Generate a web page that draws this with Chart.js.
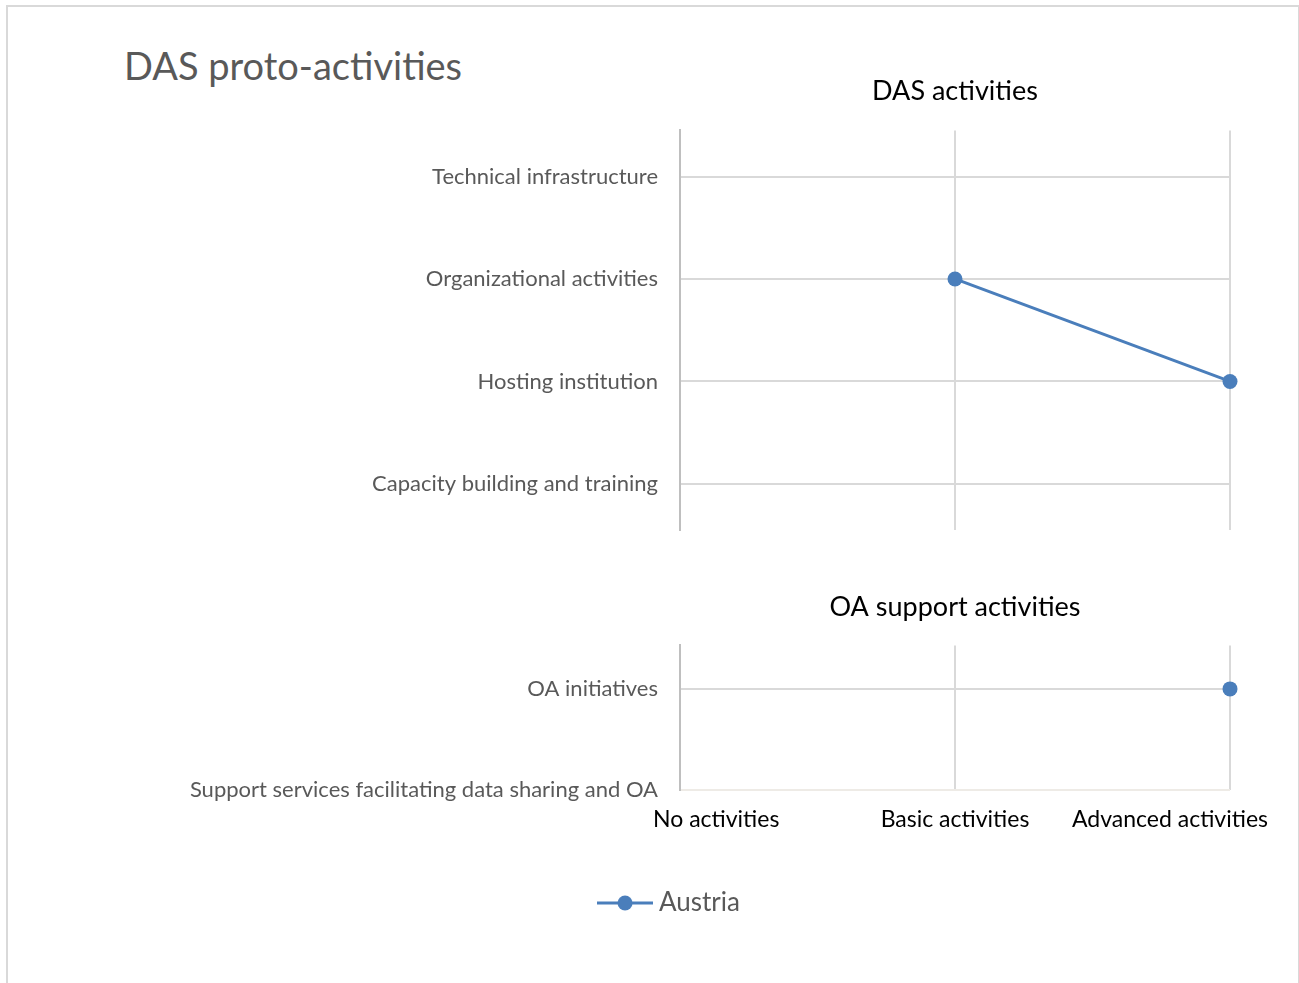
<!DOCTYPE html>
<html>
<head>
<meta charset="utf-8">
<title>DAS proto-activities</title>
<script src="https://cdn.jsdelivr.net/npm/chart.js@4.4.1/dist/chart.umd.min.js"></script>
<style>
  html, body { margin: 0; padding: 0; background: #fff; }
  body { width: 1299px; height: 983px; position: relative; overflow: hidden; font-family: Lato, sans-serif; }
  .frame { position: absolute; left: 6px; top: 5px; width: 1290px; height: 1000px; border: 2px solid #d9d9d9; }
  .main-title { position: absolute; left: 124px; top: 46px; font-size: 38px; line-height: 1; color: #595959; }
  .chart-box { position: absolute; left: 0; width: 1299px; }
  #dasBox { top: 60px; height: 490px; }
  #oaBox { top: 580px; height: 403px; }
</style>
</head>
<body>
<div class="frame"></div>
<div class="main-title">DAS proto-activities</div>
<div class="chart-box" id="dasBox"><canvas id="dasChart"></canvas></div>
<div class="chart-box" id="oaBox"><canvas id="oaChart"></canvas></div>

<script>
// Dados
const activityLevels = ['No activities', 'Basic activities', 'Advanced activities'];
const dasCategories = ['Technical infrastructure', 'Organizational activities', 'Hosting institution', 'Capacity building and training'];
const dasAustria = [null, 1, 2, null];
const oaCategories = ['OA initiatives', 'Support services facilitating data sharing and OA'];
const oaAustria = [2, null];

const seriesColor = '#4a7ebb';
const gridColor = '#d9d9d9';
const labelColor = '#595959';

Chart.defaults.font.family = 'Lato, sans-serif';

// valores -> pontos {x: nível, y: índice da categoria}
function toPoints(values) {
    return values.map((v, i) => ({ x: v, y: i }));
}

function fixedTicks(count) {
    return function(scale) {
        scale.ticks = [];
        for (let i = 0; i < count; i++) scale.ticks.push({ value: i });
    };
}

// Marcador da legenda: linha com ponto
function legendMarker() {
    const c = document.createElement('canvas');
    c.width = 56;
    c.height = 18;
    const g = c.getContext('2d');
    g.strokeStyle = seriesColor;
    g.lineWidth = 3;
    g.beginPath();
    g.moveTo(0, 9);
    g.lineTo(56, 9);
    g.stroke();
    g.fillStyle = seriesColor;
    g.beginPath();
    g.arc(28, 9, 7.5, 0, Math.PI * 2);
    g.fill();
    return c;
}

// Deslocar o primeiro e o último rótulo do eixo x (como no Excel)
const xLabelShift = {
    id: 'xLabelShift',
    beforeDraw(chart) {
        const s = chart.scales.x;
        if (!s || !s.options.ticks.display) return;
        const items = s.getLabelItems();
        if (items.length < 2) return;
        items[0].options.translation[0] -= 27;
        items[items.length - 1].options.translation[0] += 38;
    }
};

const lineStyle = {
    label: 'Austria',
    borderColor: seriesColor,
    backgroundColor: seriesColor,
    borderWidth: 3,
    pointRadius: 7.5,
    pointBorderWidth: 0,
    pointBackgroundColor: seriesColor,
    fill: false,
    tension: 0,
    clip: false
};

// Gráfico superior: DAS activities
new Chart(document.getElementById('dasChart'), {
    type: 'line',
    data: {
        datasets: [Object.assign({ data: toPoints(dasAustria) }, lineStyle)]
    },
    options: {
        responsive: true,
        maintainAspectRatio: false,
        animation: false,
        layout: { padding: { left: 0, right: 69, top: 0, bottom: 20 } },
        plugins: {
            legend: { display: false },
            tooltip: { enabled: false },
            title: {
                display: true,
                text: 'DAS activities',
                fullSize: false,
                color: '#000',
                font: { size: 27, weight: 'normal' },
                padding: { top: 15, bottom: 23 }
            }
        },
        scales: {
            x: {
                type: 'linear',
                min: 0,
                max: activityLevels.length - 1,
                afterBuildTicks: fixedTicks(activityLevels.length),
                ticks: { display: false },
                grid: { color: gridColor, lineWidth: 2, drawTicks: false },
                border: { display: false },
                afterFit: function(s) { s.height = 0; s.paddingLeft = 0; s.paddingRight = 0; }
            },
            y: {
                type: 'linear',
                reverse: true,
                min: -0.45,
                max: dasCategories.length - 1 + 0.45,
                afterBuildTicks: fixedTicks(dasCategories.length),
                ticks: {
                    callback: v => dasCategories[v],
                    color: labelColor,
                    font: { size: 22 },
                    padding: 22
                },
                grid: { color: gridColor, lineWidth: 2, drawTicks: false },
                border: { color: '#bfbfbf', width: 2 },
                afterFit: function(s) { s.width = 680; s.paddingTop = 0; s.paddingBottom = 0; }
            }
        }
    }
});

// Gráfico inferior: OA support activities
const padLeft = 114;
new Chart(document.getElementById('oaChart'), {
    type: 'line',
    data: {
        datasets: [Object.assign({ data: toPoints(oaAustria) }, lineStyle)]
    },
    plugins: [xLabelShift],
    options: {
        responsive: true,
        maintainAspectRatio: false,
        animation: false,
        layout: { padding: { left: padLeft, right: 69, top: 0, bottom: 57 } },
        plugins: {
            tooltip: { enabled: false },
            title: {
                display: true,
                text: 'OA support activities',
                fullSize: false,
                color: '#000',
                font: { size: 27, weight: 'normal' },
                padding: { top: 11, bottom: 22 }
            },
            legend: {
                position: 'bottom',
                labels: {
                    usePointStyle: true,
                    pointStyle: legendMarker(),
                    pointStyleWidth: 42,
                    color: labelColor,
                    font: { size: 26 },
                    padding: 10
                }
            }
        },
        scales: {
            x: {
                type: 'linear',
                min: 0,
                max: activityLevels.length - 1,
                afterBuildTicks: fixedTicks(activityLevels.length),
                ticks: {
                    callback: v => activityLevels[v],
                    color: '#000',
                    font: { size: 23 },
                    padding: 16,
                    align: 'inner',
                    maxRotation: 0
                },
                grid: { color: gridColor, lineWidth: 2, drawTicks: false },
                border: { display: false },
                afterFit: function(s) { s.height = 90; s.paddingLeft = 0; s.paddingRight = 0; }
            },
            y: {
                type: 'linear',
                reverse: true,
                min: -0.43,
                max: oaCategories.length - 1,
                afterBuildTicks: fixedTicks(oaCategories.length),
                ticks: {
                    callback: v => oaCategories[v],
                    color: labelColor,
                    font: { size: 22 },
                    padding: 22
                },
                grid: {
                    color: ctx => (ctx.tick && ctx.tick.value === oaCategories.length - 1) ? '#eeebe6' : gridColor,
                    lineWidth: 2,
                    drawTicks: false
                },
                border: { color: '#bfbfbf', width: 2 },
                afterFit: function(s) { s.width = 680 - padLeft; s.paddingTop = 0; s.paddingBottom = 0; }
            }
        }
    }
});
</script>
</body>
</html>
